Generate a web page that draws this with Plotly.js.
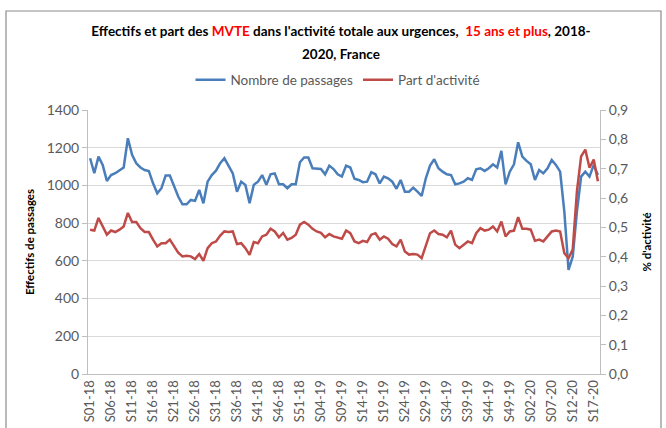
<!DOCTYPE html>
<html>
<head>
<meta charset="utf-8">
<script src="https://cdn.plot.ly/plotly-3.0.1.min.js"></script>
<style>
html,body{margin:0;padding:0;background:#fff;}
#chart{width:666px;height:428px;}
</style>
</head>
<body>
<div id="chart"></div>
<script>
var weeks = [
"S01-18","S02-18","S03-18","S04-18","S05-18","S06-18","S07-18","S08-18","S09-18","S10-18",
"S11-18","S12-18","S13-18","S14-18","S15-18","S16-18","S17-18","S18-18","S19-18","S20-18",
"S21-18","S22-18","S23-18","S24-18","S25-18","S26-18","S27-18","S28-18","S29-18","S30-18",
"S31-18","S32-18","S33-18","S34-18","S35-18","S36-18","S37-18","S38-18","S39-18","S40-18",
"S41-18","S42-18","S43-18","S44-18","S45-18","S46-18","S47-18","S48-18","S49-18","S50-18",
"S51-18","S52-18",
"S01-19","S02-19","S03-19","S04-19","S05-19","S06-19","S07-19","S08-19","S09-19","S10-19",
"S11-19","S12-19","S13-19","S14-19","S15-19","S16-19","S17-19","S18-19","S19-19","S20-19",
"S21-19","S22-19","S23-19","S24-19","S25-19","S26-19","S27-19","S28-19","S29-19","S30-19",
"S31-19","S32-19","S33-19","S34-19","S35-19","S36-19","S37-19","S38-19","S39-19","S40-19",
"S41-19","S42-19","S43-19","S44-19","S45-19","S46-19","S47-19","S48-19","S49-19","S50-19",
"S51-19","S52-19",
"S01-20","S02-20","S03-20","S04-20","S05-20","S06-20","S07-20","S08-20","S09-20","S10-20",
"S11-20","S12-20","S13-20","S14-20","S15-20","S16-20","S17-20","S18-20"
];

var tickLabels = ["S01-18","S06-18","S11-18","S16-18","S21-18","S26-18","S31-18","S36-18","S41-18","S46-18",
"S51-18","S04-19","S09-19","S14-19","S19-19","S24-19","S29-19","S34-19","S39-19","S44-19",
"S49-19","S02-20","S07-20","S12-20","S17-20"];

var passages = [
1144,1065,1153,1108,1024,1055,1065,1082,1095,1250,
1162,1117,1095,1082,1076,1011,958,985,1052,1052,
994,941,900,900,923,918,976,905,1020,1055,
1078,1118,1144,1100,1064,967,1020,1003,906,1003,
1020,1055,1003,1059,1064,1006,1006,985,1006,1006,
1123,1148,1148,1091,1087,1087,1059,1105,1087,1059,
1047,1105,1095,1035,1029,1017,1020,1070,1059,1011,
1047,1038,1020,982,1029,967,967,988,967,944,
1038,1105,1139,1091,1073,1059,1055,1006,1011,1020,
1038,1029,1085,1091,1077,1091,1112,1095,1183,1006,
1073,1112,1229,1153,1130,1112,1029,1082,1064,1091,
1135,1109,1073,861,552,622,861,1047,1073,1047,
1109,1055
];

var partActivite = [
0.492,0.489,0.532,0.503,0.475,0.489,0.484,0.492,0.503,0.549,
0.518,0.518,0.497,0.484,0.484,0.458,0.435,0.446,0.446,0.458,
0.435,0.414,0.401,0.403,0.401,0.392,0.409,0.386,0.429,0.446,
0.452,0.472,0.486,0.484,0.486,0.443,0.446,0.429,0.406,0.450,
0.446,0.469,0.475,0.495,0.486,0.466,0.481,0.458,0.464,0.475,
0.509,0.518,0.509,0.495,0.486,0.481,0.466,0.477,0.469,0.466,
0.461,0.489,0.480,0.452,0.446,0.454,0.450,0.475,0.480,0.458,
0.469,0.461,0.443,0.435,0.458,0.418,0.407,0.409,0.407,0.395,
0.435,0.480,0.489,0.477,0.475,0.466,0.489,0.441,0.429,0.441,
0.452,0.446,0.480,0.497,0.489,0.492,0.503,0.486,0.520,0.469,
0.486,0.489,0.535,0.495,0.495,0.492,0.454,0.458,0.452,0.469,
0.486,0.489,0.486,0.412,0.395,0.424,0.623,0.742,0.765,0.703,
0.731,0.657
];

var FONT = "Lato, 'Noto Sans', sans-serif";
var GREY = "#595959";
var AXIS = "#bfbfbf";

var traces = [
  {
    x: weeks, y: passages, type: "scatter", mode: "lines",
    name: "Nombre de passages",
    line: {color: "#4a7ebb", width: 2.5},
    yaxis: "y"
  },
  {
    x: weeks, y: partActivite, type: "scatter", mode: "lines",
    name: "Part d'activité",
    line: {color: "#be4b48", width: 2.5},
    yaxis: "y2"
  }
];

var ml = 88, mr = 66, mt = 110, mb = 54;
var pw = 666 - ml - mr, ph = 428 - mt - mb;
function px(x){ return (x - ml) / pw; }
function py(y){ return (428 - mb - y) / ph; }

var layout = {
  width: 666, height: 428,
  margin: {l: ml, r: mr, t: mt, b: mb, pad: 0},
  paper_bgcolor: "#ffffff",
  plot_bgcolor: "#ffffff",
  separators: ", ",
  font: {family: FONT, color: GREY, size: 13},
  showlegend: true,
  title: {
    text: "<b>Effectifs et part des <span style='color:#ff0000'>MVTE</span> dans l'activité totale aux urgences,  <span style='color:#ff0000'>15 ans et plus</span>, 2018-</b>",
    font: {family: FONT, size: 13.5, color: "#000000"},
    x: 341 / 666, xanchor: "center",
    y: 1 - 31 / 428, yanchor: "middle"
  },
  annotations: [
    {
      text: "<b>2020, France</b>",
      xref: "paper", yref: "paper",
      x: px(341), y: py(54), xanchor: "center", yanchor: "middle",
      showarrow: false,
      font: {family: FONT, size: 13.5, color: "#000000"}
    }
  ],
  legend: {
    orientation: "h",
    x: px(338), xanchor: "center",
    y: py(80), yanchor: "middle",
    font: {family: FONT, size: 13.5, color: GREY},
    itemwidth: 30,
    bgcolor: "rgba(0,0,0,0)"
  },
  xaxis: {
    type: "category",
    categoryorder: "array",
    categoryarray: weeks,
    range: [-0.5, weeks.length - 0.5],
    tickmode: "array",
    tickvals: tickLabels,
    ticktext: tickLabels,
    tickangle: -90,
    tickfont: {family: FONT, size: 13, color: GREY},
    showline: true, linecolor: AXIS, linewidth: 1,
    showgrid: false, zeroline: false,
    ticks: "", fixedrange: true
  },
  yaxis: {
    range: [0, 1400],
    dtick: 200, tick0: 0,
    showgrid: true, gridcolor: "#d9d9d9", gridwidth: 1,
    showline: true, linecolor: AXIS, linewidth: 1,
    ticks: "outside", ticklen: 5, tickcolor: AXIS,
    zeroline: false,
    tickfont: {family: FONT, size: 14, color: GREY},
    title: {
      text: "<b>Effectifs de passages</b>",
      font: {family: FONT, size: 11.5, color: "#000000"},
      standoff: 9
    }
  },
  yaxis2: {
    overlaying: "y", side: "right",
    range: [0, 0.9],
    dtick: 0.1, tick0: 0,
    tickformat: ".1f",
    showgrid: false, zeroline: false,
    showline: true, linecolor: AXIS, linewidth: 1,
    ticks: "outside", ticklen: 5, tickcolor: AXIS,
    tickfont: {family: FONT, size: 14, color: GREY},
    title: {
      text: "<b>% d'activité</b>",
      font: {family: FONT, size: 11.5, color: "#000000"},
      standoff: 15
    }
  },
  shapes: [
    {
      type: "rect", xref: "paper", yref: "paper",
      x0: px(6), x1: px(661), y0: py(440), y1: py(11),
      line: {color: "#8c8c8c", width: 1.2},
      fillcolor: "rgba(0,0,0,0)", layer: "below"
    }
  ]
};

Plotly.newPlot("chart", traces, layout, {displayModeBar: false, staticPlot: true});
</script>
</body>
</html>
